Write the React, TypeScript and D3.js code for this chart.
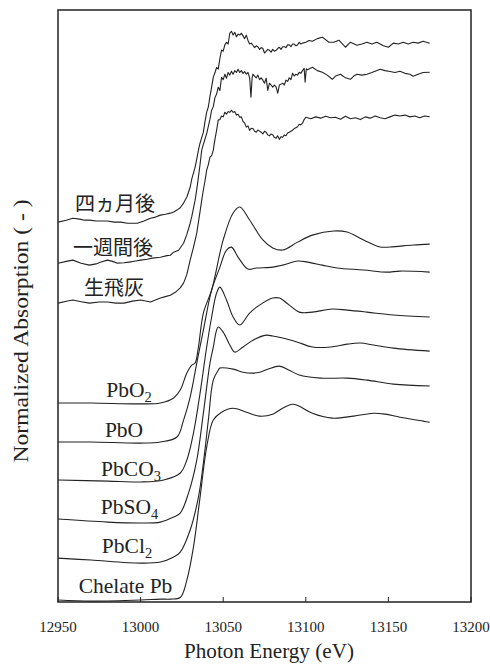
import React, { useEffect } from 'react';
import * as d3 from 'd3';

// Pb L3-edge XANES, stacked. Each spectrum: [photon energy (eV), normalized absorption]
const energyTicks = [12950, 13000, 13050, 13100, 13150, 13200];

const fourMonths: [number, number][] = [
  [12950, 0], [12955, 0.011], [12959, 0.022], [12963, 0.017], [12966, 0.011], [12969, 0.011],
  [12973, 0.006], [12976, 0.006], [12980, 0.006], [12984, 0], [12988, 0], [12992, -0.006],
  [12995, -0.006], [12998, -0.006], [13002, 0.006], [13006, 0.022], [13009, 0.028], [13012, 0.039],
  [13015, 0.044], [13018, 0.05], [13020, 0.056], [13022, 0.067], [13024, 0.08], [13026, 0.106],
  [13028, 0.14], [13030, 0.194], [13031, 0.24], [13033, 0.306], [13034, 0.35], [13035, 0.4],
  [13036, 0.44], [13037, 0.47], [13038, 0.5], [13039, 0.56], [13040, 0.611], [13041, 0.64],
  [13042, 0.7], [13043, 0.75], [13044, 0.806], [13045, 0.83], [13046, 0.86], [13047, 0.85],
  [13048, 0.91], [13049, 0.956], [13050, 0.95], [13051, 0.985], [13052, 1.0], [13053, 0.99],
  [13054, 1.05], [13055, 1.061], [13056, 1.04], [13057, 1.055], [13058, 1.03], [13059, 1.045],
  [13060, 1.04], [13061, 1.05], [13062, 1.035], [13063, 1.02], [13064, 1.039], [13065, 1.01],
  [13066, 0.99], [13067, 0.995], [13068, 0.983], [13069, 0.97], [13070, 0.98], [13071, 0.975],
  [13072, 0.96], [13073, 0.97], [13074, 0.965], [13075, 0.94], [13076, 0.95], [13077, 0.96],
  [13078, 0.955], [13079, 0.945], [13080, 0.96], [13081, 0.95], [13082, 0.955], [13083, 0.965],
  [13084, 0.972], [13085, 0.96], [13086, 0.975], [13087, 0.975], [13088, 0.97], [13089, 0.985],
  [13090, 0.985], [13091, 0.975], [13092, 0.99], [13093, 0.99], [13094, 0.98], [13095, 0.985],
  [13096, 1.0], [13097, 0.99], [13098, 0.995], [13100, 1.0], [13102, 1.01], [13104, 1.005],
  [13107, 1.02], [13110, 1.028], [13114, 1.0], [13117, 1.0], [13120, 1.011], [13124, 0.972],
  [13127, 1.0], [13131, 0.983], [13134, 0.99], [13137, 1.0], [13140, 0.99], [13143, 1.0],
  [13147, 0.98], [13150, 0.972], [13153, 0.995], [13156, 0.99], [13159, 1.0], [13162, 0.99],
  [13165, 1.0], [13168, 0.995], [13171, 1.005], [13175, 0.994],
];

const oneWeek: [number, number][] = [
  [12950, 0], [12955, 0.01], [12959, 0.017], [12964, 0.0], [12969, -0.011], [12973, -0.004],
  [12976, 0.006], [12980, 0.017], [12983, 0.01], [12986, 0], [12990, 0.002], [12993, 0.006],
  [12997, 0.012], [13000, 0.017], [13004, 0.022], [13007, 0.028], [13012, 0.033], [13016, 0.042],
  [13018, 0.044], [13020, 0.061], [13023, 0.072], [13026, 0.111], [13028, 0.16], [13030, 0.222],
  [13031, 0.26], [13033, 0.35], [13034, 0.41], [13035, 0.478], [13036, 0.55], [13037, 0.628],
  [13038, 0.66], [13039, 0.69], [13040, 0.72], [13041, 0.76], [13042, 0.8], [13043, 0.85],
  [13044, 0.87], [13045, 0.92], [13046, 0.94], [13047, 0.978], [13048, 0.96], [13049, 1.033],
  [13050, 1.02], [13051, 1.05], [13052, 1.028], [13053, 1.06], [13054, 1.045], [13055, 1.067],
  [13056, 1.05], [13057, 1.07], [13058, 1.06], [13059, 1.078], [13060, 1.06], [13061, 1.07],
  [13062, 1.055], [13063, 1.065], [13064, 1.05], [13065, 1.06], [13066, 1.03], [13066.8, 0.922],
  [13067.5, 1.03], [13068, 1.05], [13069, 1.04], [13070, 1.03], [13071, 1.045], [13072, 1.02],
  [13073, 1.03], [13074, 1.017], [13075, 1.0], [13076, 1.028], [13077, 0.96], [13078, 1.0],
  [13079, 0.99], [13080, 0.978], [13081, 0.99], [13082, 0.98], [13083, 0.945], [13084, 0.99],
  [13085, 0.995], [13086, 1.0], [13087, 0.99], [13088, 1.017], [13089, 1.01], [13090, 1.03],
  [13091, 1.02], [13092, 1.056], [13093, 1.04], [13094, 1.05], [13095, 1.045], [13096, 1.061],
  [13097, 1.055], [13098, 1.07], [13099, 1.083], [13099.6, 1.006], [13100.3, 1.08], [13101, 1.075],
  [13104, 1.089], [13107, 1.07], [13110, 1.061], [13113, 1.045], [13116, 1.022], [13118, 1.04],
  [13121, 1.05], [13124, 1.03], [13127, 1.022], [13129, 1.04], [13131, 1.05], [13134, 1.045],
  [13137, 1.05], [13140, 1.06], [13145, 1.078], [13148, 1.07], [13151, 1.065], [13154, 1.06],
  [13157, 1.067], [13160, 1.055], [13163, 1.05], [13165, 1.039], [13168, 1.05], [13171, 1.06],
  [13175, 1.061],
];

const rawAsh: [number, number][] = [
  [12950, 0], [12955, 0.01], [12959, 0.017], [12964, 0.008], [12969, 0], [12975, 0.006],
  [12980, 0.006], [12985, 0], [12990, 0], [12995, 0.011], [13000, 0.017], [13006, 0.006],
  [13012, 0.028], [13015, 0.036], [13018, 0.044], [13021, 0.06], [13024, 0.085], [13026, 0.111],
  [13028, 0.16], [13030, 0.239], [13032, 0.31], [13034, 0.389], [13035, 0.45], [13036, 0.51],
  [13037, 0.572], [13038, 0.63], [13039, 0.68], [13040, 0.739], [13041, 0.77], [13042, 0.811],
  [13043, 0.82], [13044, 0.85], [13045, 0.91], [13046, 0.96], [13047, 1.017], [13048, 1.02],
  [13049, 1.04], [13050, 1.035], [13051, 1.061], [13052, 1.05], [13053, 1.065], [13054, 1.06],
  [13055, 1.072], [13056, 1.06], [13057, 1.065], [13058, 1.045], [13059, 1.05], [13060, 1.033],
  [13061, 1.035], [13062, 1.01], [13063, 1.0], [13064, 0.978], [13065, 0.985], [13066, 0.96],
  [13067, 0.972], [13068, 0.97], [13069, 0.955], [13070, 0.95], [13071, 0.962], [13072, 0.956],
  [13073, 0.95], [13074, 0.94], [13075, 0.955], [13076, 0.95], [13077, 0.935], [13078, 0.93],
  [13079, 0.94], [13080, 0.935], [13081, 0.92], [13082, 0.917], [13083, 0.93], [13084, 0.91],
  [13085, 0.925], [13086, 0.922], [13087, 0.935], [13088, 0.93], [13089, 0.945], [13090, 0.95],
  [13091, 0.955], [13092, 0.961], [13093, 0.97], [13094, 0.975], [13095, 0.98], [13096, 0.994],
  [13097, 0.99], [13098, 1.0], [13099, 1.02], [13100, 1.033], [13103, 1.025], [13106, 1.035],
  [13109, 1.028], [13112, 1.039], [13115, 1.03], [13118, 1.033], [13121, 1.022], [13124, 1.039],
  [13127, 1.025], [13130, 1.03], [13133, 1.02], [13136, 1.035], [13139, 1.028], [13142, 1.04],
  [13145, 1.03], [13148, 1.025], [13151, 1.035], [13154, 1.045], [13157, 1.04], [13160, 1.045],
  [13163, 1.035], [13166, 1.04], [13169, 1.03], [13172, 1.04], [13175, 1.036],
];

const pbO2: [number, number][] = [
  [12950, 0], [12970, 0], [13000, -0.005], [13012, 0], [13020, 0.028], [13024, 0.072],
  [13028, 0.167], [13031, 0.211], [13033, 0.222], [13035, 0.311], [13038, 0.5], [13043, 0.628],
  [13050, 0.906], [13056, 1.056], [13060, 1.089], [13066, 1.017], [13074, 0.906], [13080, 0.862],
  [13086, 0.85], [13095, 0.894], [13104, 0.933], [13117, 0.956], [13125, 0.95], [13135, 0.906],
  [13145, 0.867], [13151, 0.867], [13165, 0.878], [13175, 0.883],
];

const pbO: [number, number][] = [
  [12950, 0], [12970, 0], [13000, -0.006], [13012, 0], [13022, 0.028], [13026, 0.122],
  [13030, 0.25], [13034, 0.439], [13038, 0.622], [13043, 0.844], [13048, 0.972], [13052, 1.067],
  [13055, 1.083], [13059, 1.028], [13065, 0.961], [13070, 0.967], [13080, 0.972], [13086, 0.983],
  [13095, 1.006], [13101, 1.0], [13110, 0.983], [13119, 0.967], [13135, 0.956], [13149, 0.944],
  [13157, 0.95], [13175, 0.944],
];

const pbCO3: [number, number][] = [
  [12950, 0], [12980, -0.006], [13000, -0.011], [13014, 0], [13024, 0.039], [13028, 0.111],
  [13032, 0.261], [13036, 0.483], [13040, 0.739], [13043, 0.906], [13046, 1.039], [13048, 1.072],
  [13052, 1.0], [13056, 0.906], [13060, 0.861], [13066, 0.928], [13072, 0.972], [13080, 1.011],
  [13084, 1.011], [13090, 0.972], [13096, 0.933], [13104, 0.933], [13116, 0.95], [13125, 0.944],
  [13137, 0.933], [13153, 0.917], [13175, 0.906],
];

const pbSO4: [number, number][] = [
  [12950, 0], [12980, -0.017], [13000, -0.022], [13012, -0.017], [13020, 0.011], [13024, 0.033],
  [13029, 0.144], [13034, 0.328], [13038, 0.589], [13042, 0.867], [13044, 0.956], [13046, 1.05],
  [13047, 1.067], [13050, 1.039], [13054, 0.967], [13057, 0.928], [13062, 0.956], [13068, 0.994],
  [13076, 1.022], [13080, 1.017], [13086, 1.006], [13095, 0.983], [13104, 0.956], [13115, 0.956],
  [13125, 0.972], [13133, 0.978], [13141, 0.967], [13153, 0.95], [13175, 0.933],
];

const pbCl2: [number, number][] = [
  [12950, 0], [12970, -0.011], [13000, -0.028], [13012, -0.022], [13020, 0.006], [13024, 0.033],
  [13030, 0.156], [13035, 0.339], [13038, 0.528], [13041, 0.767], [13044, 0.989], [13047, 1.044],
  [13048, 1.056], [13056, 1.05], [13062, 1.033], [13068, 1.028], [13072, 1.033], [13077, 1.05],
  [13084, 1.067], [13090, 1.044], [13096, 1.017], [13109, 1.0], [13125, 1.0], [13137, 0.989],
  [13153, 0.967], [13175, 0.956],
];

const chelatePb: [number, number][] = [
  [12950, 0.006], [12970, 0], [13000, 0.006], [13012, 0.011], [13018, 0.011], [13024, 0.02],
  [13028, 0.117], [13032, 0.3], [13036, 0.578], [13040, 0.856], [13044, 1.006], [13049, 1.05],
  [13056, 1.072], [13064, 1.05], [13072, 1.028], [13080, 1.039], [13086, 1.072], [13092, 1.094],
  [13096, 1.083], [13104, 1.044], [13116, 1.017], [13129, 1.028], [13141, 1.044], [13148, 1.039],
  [13157, 1.022], [13171, 1.0], [13175, 0.994],
];

// vertical stacking offsets (same order as spectra below)
const sampleNames = ['四ヵ月後', '一週間後', '生飛灰'];
const standardNames = ['PbO2', 'PbO', 'PbCO3', 'PbSO4', 'PbCl2', 'Chelate Pb'];
const offsets = [2.111, 1.883, 1.661, 1.106, 0.889, 0.678, 0.461, 0.244, 0.005];

const spectra = [fourMonths, oneWeek, rawAsh, pbO2, pbO, pbCO3, pbSO4, pbCl2, chelatePb];
const noisy = [true, true, true, false, false, false, false, false, false];

// label layout (px): centre x, gap above curve baseline
const labelLayout = [
  { x: 115, dy: 11 }, { x: 113, dy: 8 }, { x: 114, dy: 8 },
  { x: 129, dy: 6 }, { x: 124, dy: 5 }, { x: 131, dy: 4 }, { x: 129.5, dy: 5 }, { x: 127, dy: 5 }, { x: 125.5, dy: 8 },
];

const W = 490;
const H = 665;
const margin = { top: 10, right: 19, bottom: 63, left: 58 };

const serif = '"Liberation Serif", "Times New Roman", serif';
const cjk = '"Noto Sans CJK JP", "Noto Sans CJK SC", sans-serif';

function formula(name: string) {
  // split chemical formula into text / subscript pieces
  const parts: { t: string; sub: boolean }[] = [];
  if (name.indexOf(' ') >= 0) return [{ t: name, sub: false }];
  name.split(/(\d+)/).forEach((p) => {
    if (p) parts.push({ t: p, sub: /\d/.test(p) });
  });
  return parts;
}

const App: React.FC = () => {
  useEffect(() => {
    document.body.style.margin = '0';
  }, []);

  const x = d3.scaleLinear().domain([12950, 13200]).range([margin.left, W - margin.right]);
  const y = d3.scaleLinear().domain([0, 3.29]).range([H - margin.bottom, margin.top]);

  const lineLinear = d3.line<[number, number]>().x((d) => x(d[0])).y((d) => y(d[1]));
  const lineSmooth = d3
    .line<[number, number]>()
    .x((d) => x(d[0]))
    .y((d) => y(d[1]))
    .curve(d3.curveCatmullRom.alpha(0.5));

  const labels = [...sampleNames, ...standardNames];
  const x0 = margin.left;
  const x1 = W - margin.right;
  const y0 = margin.top;
  const y1 = H - margin.bottom;

  return (
    <svg width={W} height={H} style={{ display: 'block', background: '#fff' }}>
      {/* spectra */}
      <g fill="none" stroke="#222" strokeWidth={1.1} strokeLinejoin="round">
        {spectra.map((s, i) => {
          const pts = s.map((d) => [d[0], d[1] + offsets[i]] as [number, number]);
          return <path key={i} d={(noisy[i] ? lineLinear : lineSmooth)(pts) || ''} />;
        })}
      </g>

      {/* curve labels */}
      {labels.map((name, i) => {
        const ty = y(offsets[i]) - labelLayout[i].dy;
        if (i < 3) {
          return (
            <text key={name} x={labelLayout[i].x} y={ty} textAnchor="middle" fontFamily={cjk} fontSize={20} fill="#222">
              {name}
            </text>
          );
        }
        return (
          <text key={name} x={labelLayout[i].x} y={ty} textAnchor="middle" fontFamily={serif} fontSize={21.5} fill="#222">
            {formula(name).map((p, j) =>
              p.sub ? (
                <tspan key={j} fontSize={14.5} dy={5}>{p.t}</tspan>
              ) : (
                <tspan key={j} dy={j > 0 ? -5 : 0}>{p.t}</tspan>
              )
            )}
          </text>
        );
      })}

      {/* frame */}
      <rect x={x0} y={y0} width={x1 - x0} height={y1 - y0} fill="none" stroke="#222" strokeWidth={1.5} />

      {/* bottom ticks (inward) and labels */}
      {energyTicks.map((t) => (
        <g key={t}>
          <line x1={x(t)} x2={x(t)} y1={y1} y2={y1 - 5} stroke="#222" strokeWidth={1} />
          <text x={x(t)} y={y1 + 30} textAnchor="middle" fontFamily={serif} fontSize={15} fill="#222">
            {t}
          </text>
        </g>
      ))}

      <text x={269} y={H - 7} textAnchor="middle" fontFamily={serif} fontSize={20} fill="#222" textLength={170} lengthAdjust="spacingAndGlyphs">
        Photon Energy (eV)
      </text>
      <text
        transform={`translate(28, 331) rotate(-90)`}
        textAnchor="middle"
        fontFamily={serif}
        fontSize={20}
        fill="#222"
        textLength={263}
        lengthAdjust="spacingAndGlyphs"
      >
        Normalized Absorption ( - )
      </text>
    </svg>
  );
};

export default App;
